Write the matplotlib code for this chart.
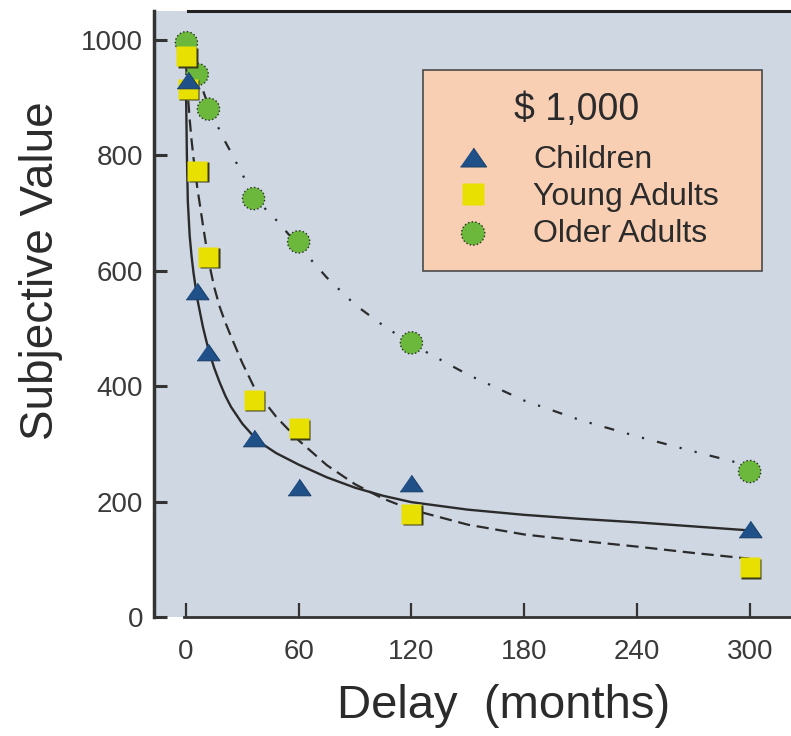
import matplotlib
matplotlib.use('Agg')
import matplotlib.pyplot as plt
from matplotlib.lines import Line2D
from matplotlib import transforms

plt.rcParams['font.family'] = ['Liberation Sans', 'DejaVu Sans']

# observed points (delay in months, subjective value of $1000)
children_delay = [1, 6, 12, 36, 60, 120, 300]
children_value = [930, 565, 460, 310, 225, 232, 152]
young_delay = [0.25, 1, 6, 12, 36, 60, 120, 300]
young_value = [972, 915, 773, 624, 376, 327, 179, 86]
older_delay = [0.25, 6, 12, 36, 60, 120, 300]
older_value = [995, 940, 880, 725, 650, 475, 252]

# fitted curves
fit_delay = [0, 0.5, 1, 2, 3, 4, 6, 9, 12, 15, 18, 21, 24, 30, 36, 42, 48, 60, 75, 90,
             105, 120, 150, 180, 210, 240, 270, 300]
children_fit = [925, 800, 720, 660, 625, 597, 552, 503, 463, 432, 406, 383, 364, 335, 313, 297,
                284, 264, 242, 224, 210, 199, 186, 177, 170, 164, 157, 150]
young_fit = [960, 932, 905, 862, 826, 796, 745, 680, 618, 572, 537, 510, 486, 440, 400, 372,
             347, 306, 263, 230, 205, 186, 160, 143, 132, 122, 111, 101]
older_fit = [1000, 996, 992, 985, 976, 968, 946, 913, 885, 863, 843, 823, 805, 767, 732, 708,
             688, 643, 588, 541, 505, 473, 420, 375, 341, 313, 287, 262]

xticks = [0, 60, 120, 180, 240, 300]
yticks = [0, 200, 400, 600, 800, 1000]

ink = '#2b2b2b'

fig = plt.figure(figsize=(7.91, 7.36), dpi=100)
ax = fig.add_axes([154 / 791, 1 - 617 / 736, (791 - 154) / 791, (617 - 11) / 736])
ax.set_facecolor('#cfd7e3')
ax.set_xlim(-17, 322)
ax.set_ylim(0, 1050)

# fitted curves
ax.plot(fit_delay, children_fit, color=ink, lw=1.7, zorder=2)
ax.plot(fit_delay, young_fit, color=ink, lw=1.6, ls=(0, (5.5, 3)), zorder=2)
ax.plot(fit_delay, older_fit, color=ink, lw=1.6, ls=(0, (4.5, 6, 1, 6, 1, 6)), zorder=2)

# data points
older = ax.scatter(older_delay, older_value, s=16 ** 2, c='#6cb83c', edgecolors=ink,
                   linewidths=1.0, linestyles=':', zorder=3)
shadow = transforms.offset_copy(ax.transData, fig=fig, x=1.5, y=-1.5, units='dots')
ax.plot(young_delay, young_value, ls='none', marker='s', ms=15, color='#3b3b1a',
        mec='none', transform=shadow, zorder=4)
ax.plot(young_delay, young_value, ls='none', marker='s', ms=15, color='#e8e000',
        mec='none', zorder=4)
tri = [(-1, -0.72), (1, -0.72), (0, 0.72)]
ax.plot(children_delay, children_value, ls='none', marker=tri, ms=16.5, color='#1f5088',
        mec='#1a3f6b', mew=0.8, zorder=5)

# legend
h_child = Line2D([], [], ls='none', marker=tri, ms=18, color='#1f5088', mec='#1a3f6b', mew=0.8)
h_young = Line2D([], [], ls='none', marker='s', ms=15, color='#e8e000', mec='none')
leg = ax.legend([h_child, h_young, older], ['Children', 'Young Adults', 'Older Adults'],
                title='\\$ 1,000   ', loc='upper left', bbox_to_anchor=(0.422, 0.903, 0.532, 0.0),
                mode='expand', fontsize=23, title_fontsize=27, fancybox=False,
                edgecolor='#4a4a4a', facecolor='#f9cfb4', framealpha=1, borderpad=0.7,
                handlelength=1.75, handletextpad=1.0, labelspacing=0.22, borderaxespad=0,
                scatterpoints=1, labelcolor=ink, markerscale=1.05)
leg._legend_box.sep = 12
leg.get_frame().set_linewidth(1.2)
leg.get_title().set_color(ink)

# spines
ax.spines['right'].set_visible(False)
ax.spines['top'].set_bounds(1, 322)
ax.spines['top'].set_linewidth(2.2)
ax.spines['top'].set_color('#222222')
ax.spines['left'].set_linewidth(2.5)
ax.spines['left'].set_color('#333333')
ax.spines['bottom'].set_bounds(-1, 322)
ax.spines['bottom'].set_linewidth(2.0)
ax.spines['bottom'].set_color('#333333')
ax.plot([-17, -11], [0, 0], color='#333333', lw=2.0, clip_on=False, zorder=6)

# ticks
ax.set_xticks(xticks)
ax.set_yticks(yticks)
ax.tick_params(axis='y', direction='in', length=9.5, width=2.2, pad=8, labelsize=20,
               labelcolor='#3a3a3a', color='#333333')
ax.tick_params(axis='x', direction='in', length=10, width=1.6, pad=16, labelsize=20,
               labelcolor='#3a3a3a', color='#333333')
ax.tick_params(top=False, right=False)

ax.set_ylabel('Subjective Value', fontsize=33, color=ink)
ax.yaxis.set_label_coords(-0.143, 0.571)
ax.set_xlabel('Delay  (months)', fontsize=34, color=ink)
ax.xaxis.set_label_coords(0.549, -0.111)

fig.savefig('out.png', dpi=100)
